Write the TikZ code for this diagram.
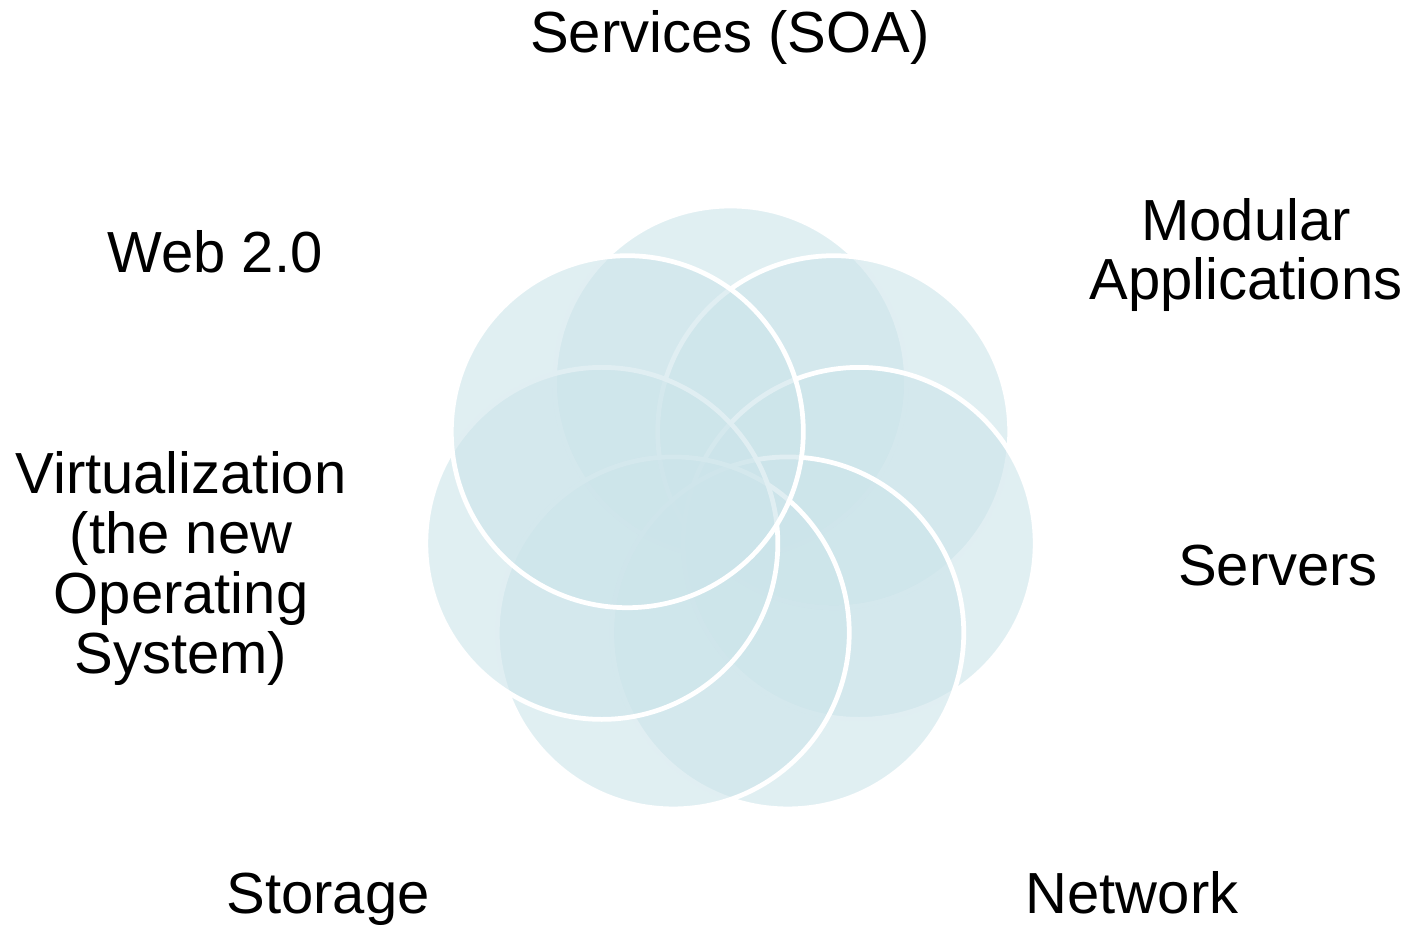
\documentclass[tikz,border=0pt]{standalone}
\usepackage{fontspec}
\setmainfont{Liberation Sans}
\usepackage{xcolor}
\usepackage{tikz}
\usetikzlibrary{positioning}
\definecolor{petalblue}{RGB}{204,228,234}
\tikzstyle{petal} = [fill=petalblue, fill opacity=0.6, draw=white, line width=2.7pt]
\tikzstyle{tag} = [font=\fontsize{33}{34}\selectfont, align=center, anchor=base, inner sep=0pt, text=black]

\begin{document}
\begin{tikzpicture}[x=0.02cm, y=0.02cm]
\useasboundingbox (0,0) rectangle (1408,927);
\coordinate (hub) at (730.5,413);

% Circles
\filldraw[petal] ([shift={(90:132)}]hub) circle[radius=176];
\filldraw[petal] ([shift={(38.57:132)}]hub) circle[radius=176];
\filldraw[petal] ([shift={(-12.86:132)}]hub) circle[radius=176];
\filldraw[petal] ([shift={(-64.29:132)}]hub) circle[radius=176];
\filldraw[petal] ([shift={(-115.71:132)}]hub) circle[radius=176];
\filldraw[petal] ([shift={(-167.14:132)}]hub) circle[radius=176];
\filldraw[petal] ([shift={(141.43:132)}]hub) circle[radius=176];

% Labels (base = last line)
\node[tag] (soa) at (730,874) {Services (SOA)};
\node[tag] (modular) at (1246,627) {Modular\\Applications};
\node[tag] (web) at (215,654) {Web 2.0};
\node[tag] (virt) at (181,254) {Virtualization\\(the new\\Operating\\System)};
\node[tag] (servers) at (1278,342) {Servers};
\node[tag] (storage) at (328,14) {Storage};
\node[tag] (network) at (1132,14) {Network};
\end{tikzpicture}
\end{document}
